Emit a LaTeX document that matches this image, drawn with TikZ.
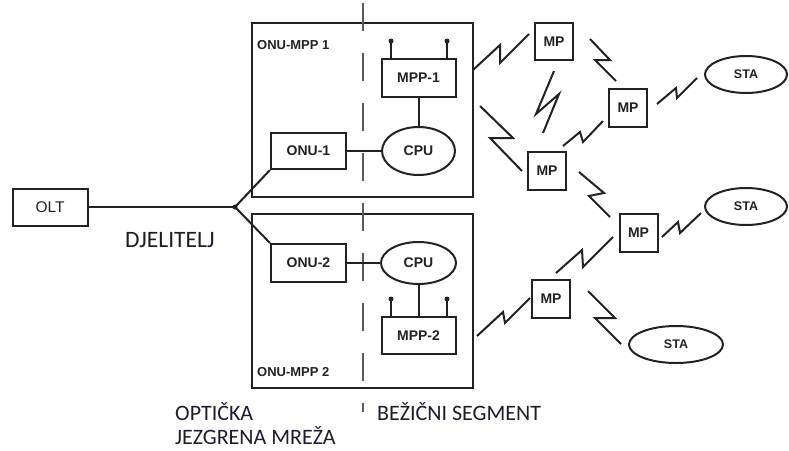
\documentclass[tikz,border=0pt]{standalone}
\usepackage{fontspec}
\setmainfont{Liberation Sans}
\newfontfamily\calfont{Carlito}
\usetikzlibrary{shapes.geometric,calc}
\definecolor{ln}{HTML}{222222}
\definecolor{dsh}{HTML}{5A5A5A}
\definecolor{txt}{HTML}{1C1C2E}
\begin{document}
\begin{tikzpicture}[x=1pt,y=-1pt,
  lbl/.style={font=\bfseries\fontsize{14}{16}\selectfont, text=ln},
  rbox/.style={draw=ln, line width=2pt, inner sep=0pt, lbl},
  ebox/.style={ellipse, draw=ln, line width=2pt, inner sep=0pt, lbl},
  frame/.style={draw=ln, line width=2.2pt, inner sep=0pt},
  wire/.style={draw=ln, line width=2pt},
  zz/.style={draw=ln, line width=2pt, line join=miter},
  dashln/.style={draw=dsh, line width=2.6pt, dash pattern=on 28pt off 22pt},
  big/.style={font=\calfont\fontsize{22}{25}\selectfont, text=txt, inner sep=0pt},
  dotn/.style={circle, fill=ln, inner sep=0pt, minimum size=5pt}
]
\useasboundingbox (0,0) rectangle (789,450);

% outer ONU-MPP frames
\node[frame, minimum width=221pt, minimum height=174pt] (box1) at (362.5,110) {};
\node[frame, minimum width=221pt, minimum height=174pt] (box2) at (362.5,301) {};
\node[lbl, font=\bfseries\fontsize{13}{15}\selectfont, anchor=west, inner sep=0pt] (lab1) at (257,45) {ONU-MPP 1};
\node[lbl, font=\bfseries\fontsize{13}{15}\selectfont, anchor=west, inner sep=0pt] (lab2) at (257,372) {ONU-MPP 2};

% dashed separator
\coordinate (dtop) at (363,3);
\coordinate (dbot) at (363,412);
\draw[dashln] (dtop) -- (dbot);

% OLT and splitter
\node[rbox, font=\fontsize{15.5}{17}\selectfont, minimum width=75pt, minimum height=37pt] (olt) at (50,207) {OLT};
\node[dotn] (sp) at (235,207) {};
\node[big, font=\calfont\fontsize{23.5}{26}\selectfont] (djel) at (170,240) {DJELITELJ};

% inner components
\node[rbox, minimum width=75pt, minimum height=36pt] (onu1) at (308.5,151) {ONU-1};
\node[ebox, minimum width=73pt, minimum height=48pt] (cpu1) at (418.5,151) {CPU};
\node[rbox, minimum width=74pt, minimum height=38pt] (mpp1) at (418.5,78) {MPP-1};

\node[rbox, minimum width=75pt, minimum height=38pt] (onu2) at (308.5,263) {ONU-2};
\node[ebox, minimum width=75pt, minimum height=42pt] (cpu2) at (418.5,263) {CPU};
\node[rbox, minimum width=74pt, minimum height=37pt] (mpp2) at (418.5,335.5) {MPP-2};

% antennas
\node[dotn] (a1) at (391,41) {};
\node[dotn] (a2) at (447,41) {};
\node[dotn] (a3) at (391,299) {};
\node[dotn] (a4) at (447,299) {};
\draw[wire] (a1.center) -- (a1.center |- mpp1.north);
\draw[wire] (a2.center) -- (a2.center |- mpp1.north);
\draw[wire] (a3.center) -- (a3.center |- mpp2.north);
\draw[wire] (a4.center) -- (a4.center |- mpp2.north);

% wired connections
\draw[wire] (olt.east) -- (sp.center);
\draw[wire] (sp.center) -- (onu1.south west);
\draw[wire] (sp.center) -- (onu2.north west);
\draw[wire] (onu1) -- (cpu1);
\draw[wire] (mpp1) -- (cpu1);
\draw[wire] (onu2) -- (cpu2);
\draw[wire] (cpu2) -- (mpp2);

% mesh points and stations
\node[rbox, minimum width=38pt, minimum height=37pt] (mp1) at (554,41.5) {MP};
\node[rbox, minimum width=38pt, minimum height=38pt] (mp2) at (628,108) {MP};
\node[rbox, minimum width=38pt, minimum height=38pt] (mp3) at (547,171) {MP};
\node[rbox, minimum width=38pt, minimum height=38pt] (mp4) at (638.5,232.5) {MP};
\node[rbox, minimum width=38pt, minimum height=38pt] (mp5) at (551,298.5) {MP};
\node[ebox, font=\bfseries\fontsize{12.5}{14}\selectfont, minimum width=82pt, minimum height=37pt] (sta1) at (746,74.5) {STA};
\node[ebox, font=\bfseries\fontsize{12.5}{14}\selectfont, minimum width=82pt, minimum height=37pt] (sta2) at (746,206.5) {STA};
\node[ebox, font=\bfseries\fontsize{12.5}{14}\selectfont, minimum width=94pt, minimum height=37pt] (sta3) at (676,344.5) {STA};

% wireless (lightning) links
\coordinate (w1a) at (473,70);  \coordinate (w1b) at (529,34);
\coordinate (w2a) at (590,39);  \coordinate (w2b) at (616,81);
\coordinate (w3a) at (554,71);  \coordinate (w3b) at (543,133);
\coordinate (w4a) at (480,106); \coordinate (w4b) at (522,171);
\coordinate (w5a) at (563,146); \coordinate (w5b) at (603,121);
\coordinate (w6a) at (657,104); \coordinate (w6b) at (697,78);
\coordinate (w7a) at (579,172); \coordinate (w7b) at (610,217);
\coordinate (w8a) at (662,237); \coordinate (w8b) at (701,213);
\coordinate (w9a) at (556,273); \coordinate (w9b) at (613,237);
\coordinate (w10a) at (477,336); \coordinate (w10b) at (530,298);
\coordinate (w11a) at (588,291); \coordinate (w11b) at (621,344);
\draw[zz] (w1a) -- (500,45) -- (500,63) -- (w1b);
\draw[zz] (w2a) -- (610,60) -- (595,60) -- (w2b);
\draw[zz] (w3a) -- (536,114) -- (559,94) -- (w3b);
\draw[zz] (w4a) -- (513,138) -- (490,138) -- (w4b);
\draw[zz] (w5a) -- (580,132) -- (583,142) -- (w5b);
\draw[zz] (w6a) -- (676,88) -- (677,98) -- (w6b);
\draw[zz] (w7a) -- (604,193) -- (589,196) -- (w7b);
\draw[zz] (w8a) -- (678,222) -- (680,233) -- (w8b);
\draw[zz] (w9a) -- (582,250) -- (583,267) -- (w9b);
\draw[zz] (w10a) -- (503,312) -- (505,323) -- (w10b);
\draw[zz] (w11a) -- (615,318) -- (595,318) -- (w11b);

% segment captions
\node[big, anchor=west] (opt1) at (175,412) {OPTIČKA};
\node[big, anchor=west] (opt2) at (175,436) {JEZGRENA MREŽA};
\node[big, anchor=west] (bez) at (377,412) {BEŽIČNI SEGMENT};
\end{tikzpicture}
\end{document}
